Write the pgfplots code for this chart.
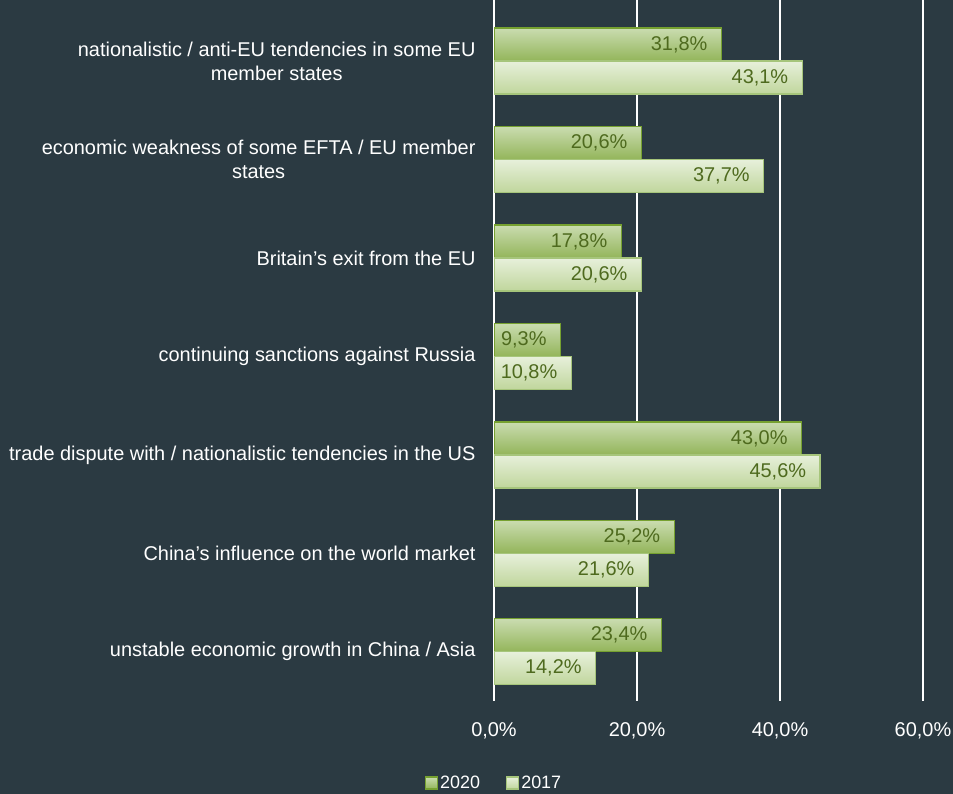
\documentclass[border=0pt]{standalone}
\usepackage{fontspec}
\setmainfont{Liberation Sans}
\usepackage{pgfplots}
\pgfplotsset{compat=1.18}
\definecolor{bg}{HTML}{2B3A42}
\definecolor{gA1}{HTML}{CADCB0}
\definecolor{gA2}{HTML}{93B55A}
\definecolor{gAb}{HTML}{76A130}
\definecolor{gB1}{HTML}{E7F0DB}
\definecolor{gB2}{HTML}{C0D69C}
\definecolor{gBb}{HTML}{A6C57B}
\definecolor{lbl}{HTML}{4E6A1E}
\pgfplotsset{
  sA/.style={draw=gAb, line width=1.3bp, top color=gA1, bottom color=gA2, bar shift=16.5bp},
  sB/.style={draw=gBb, line width=1.3bp, top color=gB1, bottom color=gB2, bar shift=-16.5bp},
}
\begin{document}
\begin{tikzpicture}
\useasboundingbox (0,0) rectangle (953bp,794bp);
\fill[bg] (0,0) rectangle (953bp,794bp);
\begin{axis}[
  at={(494bp,93bp)}, anchor=south west,
  scale only axis, width=429bp, height=701bp,
  xbar=0pt, bar width=33bp,
  xmin=0, xmax=60, ymin=-0.62, ymax=6.5,
  y dir=reverse,
  ytick={0,...,6},
  yticklabels={{nationalistic / anti-EU tendencies in some EU\\member states},
    {economic weakness of some EFTA / EU member\\states},
    {Britain's exit from the EU},
    {continuing sanctions against Russia},
    {trade dispute with / nationalistic tendencies in the US},
    {China’s influence on the world market},
    {unstable economic growth in China / Asia}},
  xtick={0,20,40,60},
  xticklabel={\pgfmathprintnumber[fixed,fixed zerofill,precision=1,use comma]{\tick}\%},
  /pgf/number format/assume math mode=true,
  axis line style={draw=none},
  major tick length=0pt,
  xmajorgrids, grid style={white, line width=1.5bp},
  tick label style={font=\fontsize{20}{24}\selectfont, text=white},
  yticklabel style={align=center, xshift=-15bp},
  xticklabel style={yshift=-18bp},
  nodes near coords={\pgfmathprintnumber[fixed,fixed zerofill,precision=1,use comma]{\pgfplotspointmeta}\%},
  every node near coord/.append style={anchor=east, xshift=-10bp, text=lbl, font=\fontsize{20}{24}\selectfont},
  legend columns=2,
  legend style={at={(rel axis cs:0,0)}, anchor=center, yshift=-82bp, draw=none, fill=none, text=white, font=\fontsize{18}{22}\selectfont, inner sep=0pt, /tikz/every even column/.append style={column sep=24bp}},
  legend image code/.code={\draw[#1] (0bp,-6bp) rectangle (12bp,6bp);},
]
\addplot[sA] coordinates {(31.8,0)};
\addplot[sB] coordinates {(43.1,0)};
\addplot[sA, forget plot] coordinates {(20.6,1)};
\addplot[sB, forget plot] coordinates {(37.7,1)};
\addplot[sA, forget plot] coordinates {(17.8,2)};
\addplot[sB, forget plot] coordinates {(20.6,2)};
\addplot[sA, forget plot] coordinates {(9.3,3)};
\addplot[sB, forget plot] coordinates {(10.8,3)};
\addplot[sA, forget plot] coordinates {(43.0,4)};
\addplot[sB, forget plot] coordinates {(45.6,4)};
\addplot[sA, forget plot] coordinates {(25.2,5)};
\addplot[sB, forget plot] coordinates {(21.6,5)};
\addplot[sA, forget plot] coordinates {(23.4,6)};
\addplot[sB, forget plot] coordinates {(14.2,6)};
\legend{2020,2017}
\end{axis}
\end{tikzpicture}
\end{document}
